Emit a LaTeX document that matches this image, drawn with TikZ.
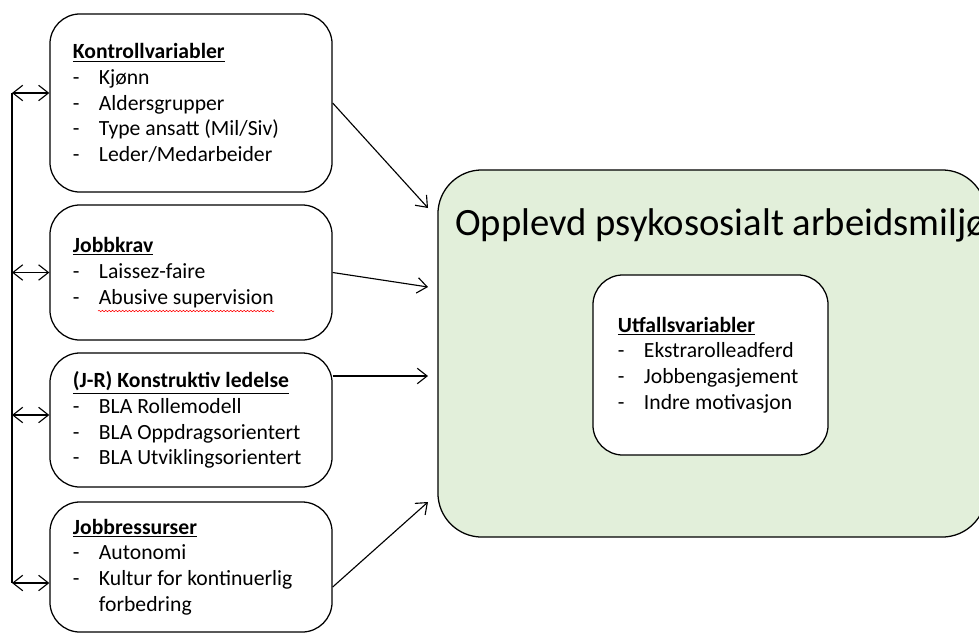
\documentclass[tikz,border=0pt]{standalone}
\usepackage{fontspec}
\setmainfont{Carlito}
\usetikzlibrary{arrows.meta,decorations.pathmorphing}
\definecolor{lysgronn}{HTML}{E2EFDA}
\tikzset{>={Straight Barb[length=7pt,width=11pt]}}
\newcommand{\punkt}[1]{\makebox[0.65cm][l]{-}#1}
\newcommand{\overskrift}[1]{\underline{\textbf{#1}}}

\begin{document}
\begin{tikzpicture}[x=0.025cm,y=-0.025cm,
  boks/.style={draw,line width=0.9pt,rounded corners=0.75cm,fill=white,
    minimum width=7.05cm,inner xsep=0.575cm,text width=5.9cm,align=flush left,
    font=\fontsize{15.4}{18.3}\selectfont},
  pil/.style={->,line width=0.8pt},
  dobbelpil/.style={<->,line width=0.8pt}]
\clip (0,0) rectangle (979,633);

% the four groups on the left
\node[boks,minimum height=4.45cm] (kontroll) at (191,103)
  {\overskrift{Kontrollvariabler}\\ \punkt{Kjønn}\\ \punkt{Aldersgrupper}\\
   \punkt{Type ansatt (Mil/Siv)}\\ \punkt{Leder/Medarbeider}};
\node[boks,minimum height=3.375cm] (jobbkrav) at (191,272.5)
  {\overskrift{Jobbkrav}\\ \punkt{Laissez-faire}\\ \punkt{Abusive supervision}};
\node[boks,minimum height=3.35cm] (ledelse) at (191,420)
  {\overskrift{(J-R) Konstruktiv ledelse}\\ \punkt{BLA Rollemodell}\\
   \punkt{BLA Oppdragsorientert}\\ \punkt{BLA Utviklingsorientert}};
\node[boks,minimum height=3.25cm] (ressurser) at (191,567)
  {\overskrift{Jobbressurser}\\ \punkt{Autonomi}\\
   \punkt{Kultur for kontinuerlig}\\ \hspace*{0.65cm}forbedring};
\draw[red,line width=0.4pt,decorate,decoration={snake,amplitude=0.5pt,segment length=2.4pt}]
  (98,311) -- (274,311);

% the environment
\node[draw,line width=0.9pt,fill=lysgronn,rounded corners=1.1cm,
  minimum width=13.7cm,minimum height=9.175cm,inner sep=0] (miljo) at (712,353.5) {};
\node[anchor=base west,inner sep=0,font=\fontsize{27.5}{33}\selectfont] (tittel)
  at (455,235) {Opplevd psykososialt arbeidsmiljø};
\node[boks,minimum width=5.875cm,minimum height=4.5cm,text width=4.625cm,
  inner xsep=0.625cm] (utfall) at (710.5,365)
  {\overskrift{Utfallsvariabler}\\ \punkt{Ekstrarolleadferd}\\
   \punkt{Jobbengasjement}\\ \punkt{Indre motivasjon}};

% arrows into the environment
\coordinate (m1) at (428,208);
\coordinate (m2) at (428,287);
\coordinate (m3) at (428,376);
\coordinate (m4) at (428,502);
\draw[pil] (kontroll.east) -- (m1);
\draw[pil] (jobbkrav.east) -- (m2);
\draw[pil] (ledelse.east |- m3) -- (m3);
\draw[pil] ([yshift=-0.5cm]ressurser.east) -- (m4);

% correlations on the left
\coordinate (v1) at (12,93);
\coordinate (v2) at (12,272.5);
\coordinate (v3) at (12,415);
\coordinate (v4) at (12,583);
\draw[line width=2pt] (v1) -- (v4);
\draw[dobbelpil] (v1) -- (v1 -| kontroll.west);
\draw[dobbelpil] (v2) -- (v2 -| jobbkrav.west);
\draw[dobbelpil] (v3) -- (v3 -| ledelse.west);
\draw[dobbelpil] (v4) -- (v4 -| ressurser.west);
\end{tikzpicture}
\end{document}
